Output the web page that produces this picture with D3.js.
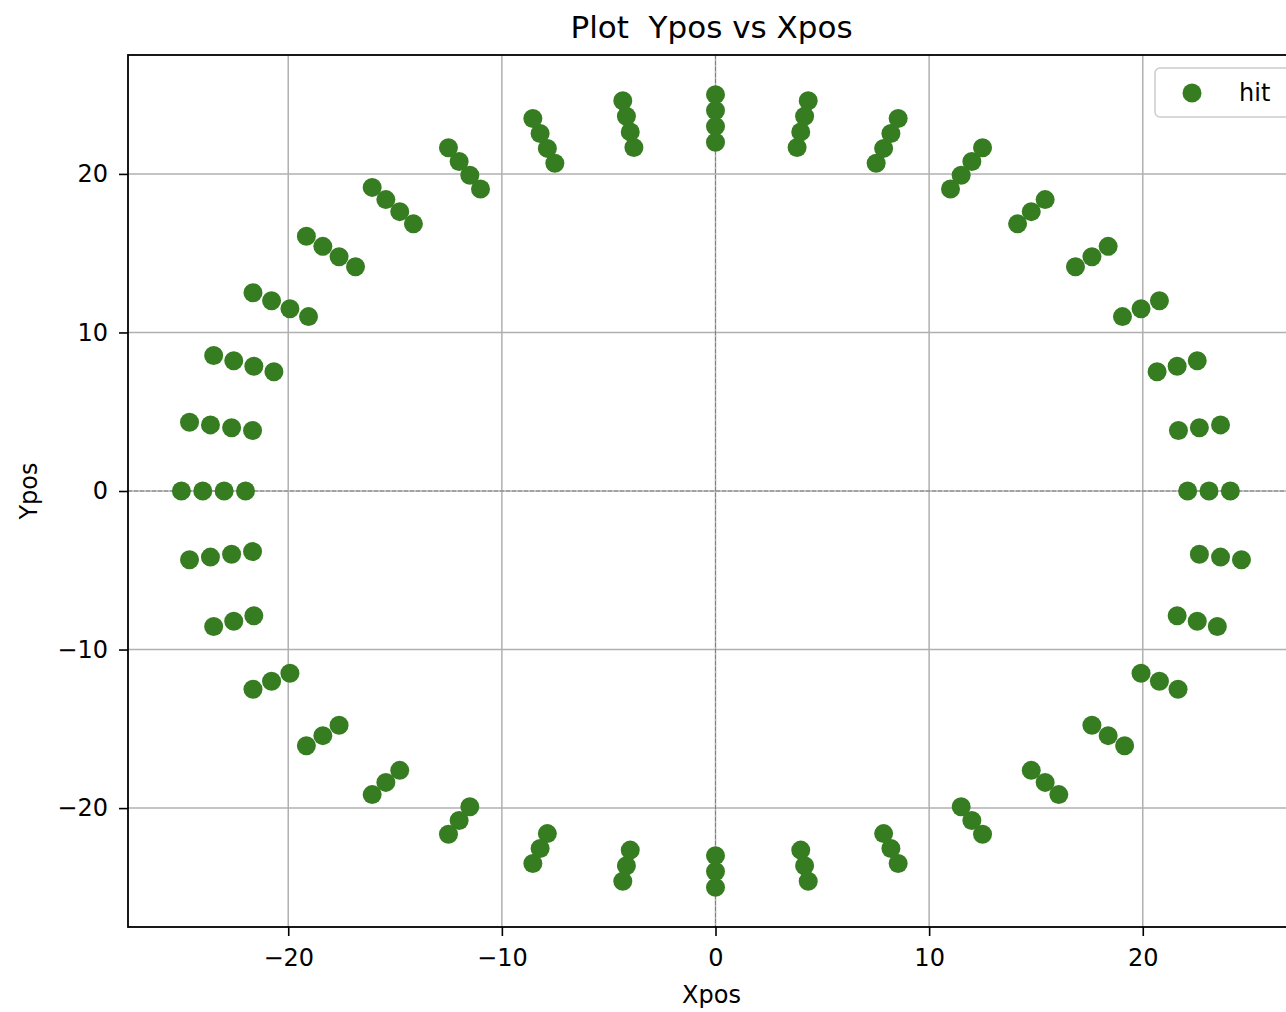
<!DOCTYPE html>
<html><head><meta charset="utf-8">
<script src="https://cdn.jsdelivr.net/npm/d3@7"></script>
<style>
body{margin:0;background:#fff;}
svg{display:block;font-family:"DejaVu Sans",sans-serif;}
</style>
</head><body>
<svg id="chart" width="1286" height="1012"></svg>
<script>
// Hit positions (grouped by direction, 0° .. 350°)
const xpos = [
  22.10, 23.10, 24.10,
  21.67, 22.65, 23.64,
  20.67, 21.61, 22.55,
  19.05, 19.92, 20.78,
  16.85, 17.62, 18.38,
  14.14, 14.78, 15.43,
  11.00, 11.50, 12.00, 12.50,
  7.52, 7.87, 8.21, 8.55,
  3.82, 3.99, 4.17, 4.34,
  0.00, 0.00, 0.00, 0.00,
  -3.82, -3.99, -4.17, -4.34,
  -7.52, -7.87, -8.21, -8.55,
  -11.00, -11.50, -12.00, -12.50,
  -14.14, -14.78, -15.43, -16.07,
  -16.85, -17.62, -18.38, -19.15,
  -19.05, -19.92, -20.78, -21.65,
  -20.67, -21.61, -22.55, -23.49,
  -21.67, -22.65, -23.64, -24.62,
  -22.00, -23.00, -24.00, -25.00,
  -21.67, -22.65, -23.64, -24.62,
  -21.61, -22.55, -23.49,
  -19.92, -20.78, -21.65,
  -17.62, -18.38, -19.15,
  -14.78, -15.43, -16.07,
  -11.50, -12.00, -12.50,
  -7.87, -8.21, -8.55,
  -3.99, -4.17, -4.34,
  0.00, 0.00, 0.00,
  3.99, 4.17, 4.34,
  7.87, 8.21, 8.55,
  11.50, 12.00, 12.50,
  14.78, 15.43, 16.07,
  17.62, 18.38, 19.15,
  19.92, 20.78, 21.65,
  21.61, 22.55, 23.49,
  22.65, 23.64, 24.62
];
const ypos = [
  0.00, 0.00, 0.00,
  3.82, 3.99, 4.17,
  7.52, 7.87, 8.21,
  11.00, 11.50, 12.00,
  14.14, 14.78, 15.43,
  16.85, 17.62, 18.38,
  19.05, 19.92, 20.78, 21.65,
  20.67, 21.61, 22.55, 23.49,
  21.67, 22.65, 23.64, 24.62,
  22.00, 23.00, 24.00, 25.00,
  21.67, 22.65, 23.64, 24.62,
  20.67, 21.61, 22.55, 23.49,
  19.05, 19.92, 20.78, 21.65,
  16.85, 17.62, 18.38, 19.15,
  14.14, 14.78, 15.43, 16.07,
  11.00, 11.50, 12.00, 12.50,
  7.52, 7.87, 8.21, 8.55,
  3.82, 3.99, 4.17, 4.34,
  0.00, 0.00, 0.00, 0.00,
  -3.82, -3.99, -4.17, -4.34,
  -7.87, -8.21, -8.55,
  -11.50, -12.00, -12.50,
  -14.78, -15.43, -16.07,
  -17.62, -18.38, -19.15,
  -19.92, -20.78, -21.65,
  -21.61, -22.55, -23.49,
  -22.65, -23.64, -24.62,
  -23.00, -24.00, -25.00,
  -22.65, -23.64, -24.62,
  -21.61, -22.55, -23.49,
  -19.92, -20.78, -21.65,
  -17.62, -18.38, -19.15,
  -14.78, -15.43, -16.07,
  -11.50, -12.00, -12.50,
  -7.87, -8.21, -8.55,
  -3.99, -4.17, -4.34
];
const xTicks = [-20, -10, 0, 10, 20];
const yTicks = [-20, -10, 0, 10, 20];
const xDomain = [-27.5, 27.5];
const yDomain = [-27.5, 27.5];
const seriesName = "hit";
const titleText = "Plot  Ypos vs Xpos";
const xLabel = "Xpos";
const yLabel = "Ypos";

const pointColor = "#367d21";
const pL = 128, pR = 1303, pT = 55, pB = 927;

const svg = d3.select("#chart");
const x = d3.scaleLinear().domain(xDomain).range([pL, pR]);
const y = d3.scaleLinear().domain(yDomain).range([pB, pT]);

// grid
const grid = svg.append("g");
grid.selectAll("line.gx").data(xTicks).join("line").attr("class", "gx")
  .attr("x1", d => x(d)).attr("x2", d => x(d))
  .attr("y1", pT).attr("y2", pB)
  .attr("stroke", "#b0b0b0").attr("stroke-width", 1.5);
grid.selectAll("line.gy").data(yTicks).join("line").attr("class", "gy")
  .attr("y1", d => y(d)).attr("y2", d => y(d))
  .attr("x1", pL).attr("x2", pR)
  .attr("stroke", "#b0b0b0").attr("stroke-width", 1.5);

// dashed zero lines
svg.append("line").attr("x1", pL).attr("x2", pR).attr("y1", y(0)).attr("y2", y(0))
  .attr("stroke", "#808080").attr("stroke-width", 1).attr("stroke-dasharray", "4,2");
svg.append("line").attr("y1", pT).attr("y2", pB).attr("x1", x(0)).attr("x2", x(0))
  .attr("stroke", "#808080").attr("stroke-width", 1).attr("stroke-dasharray", "4,2");

// points
const pts = xpos.map((d, i) => ({x: d, y: ypos[i]}));
svg.append("g").selectAll("circle").data(pts).join("circle")
  .attr("cx", d => x(d.x)).attr("cy", d => y(d.y)).attr("r", 9.5)
  .attr("fill", pointColor);

// axes
const xAxis = d3.axisBottom(x).tickValues(xTicks).tickSize(9).tickPadding(13).tickSizeOuter(0);
const yAxis = d3.axisLeft(y).tickValues(yTicks).tickSize(9).tickPadding(11).tickSizeOuter(0);
const gx = svg.append("g").attr("transform", `translate(0,${pB})`).call(xAxis);
const gy = svg.append("g").attr("transform", `translate(${pL},0)`).call(yAxis);
[gx, gy].forEach(g => {
  g.select(".domain").remove();
  g.selectAll(".tick line").attr("stroke", "#000").attr("stroke-width", 1.6);
  g.selectAll(".tick text").attr("fill", "#000").style("font-size", "24px")
    .style("font-family", '"DejaVu Sans",sans-serif');
});

// frame
svg.append("rect").attr("x", pL).attr("y", pT)
  .attr("width", pR - pL).attr("height", pB - pT)
  .attr("fill", "none").attr("stroke", "#000").attr("stroke-width", 1.8);

// title & labels
svg.append("text").attr("x", (pL + pR) / 2 - 4).attr("y", 38)
  .attr("text-anchor", "middle").style("font-size", "31px").style("white-space", "pre")
  .text(titleText);
svg.append("text").attr("x", (pL + pR) / 2 - 4).attr("y", 1003)
  .attr("text-anchor", "middle").style("font-size", "24px").text(xLabel);
svg.append("text").attr("transform", `translate(37,${(pT + pB) / 2}) rotate(-90)`)
  .attr("text-anchor", "middle").style("font-size", "24px").text(yLabel);

// legend
const lg = svg.append("g");
lg.append("rect").attr("x", 1155).attr("y", 68).attr("width", 136).attr("height", 49)
  .attr("rx", 5).attr("fill", "#fff").attr("fill-opacity", 0.8)
  .attr("stroke", "#cccccc").attr("stroke-width", 1.5);
lg.append("circle").attr("cx", 1192).attr("cy", 93).attr("r", 9.5).attr("fill", pointColor);
lg.append("text").attr("x", 1239).attr("y", 101).style("font-size", "24px").text(seriesName);
</script>
</body></html>
